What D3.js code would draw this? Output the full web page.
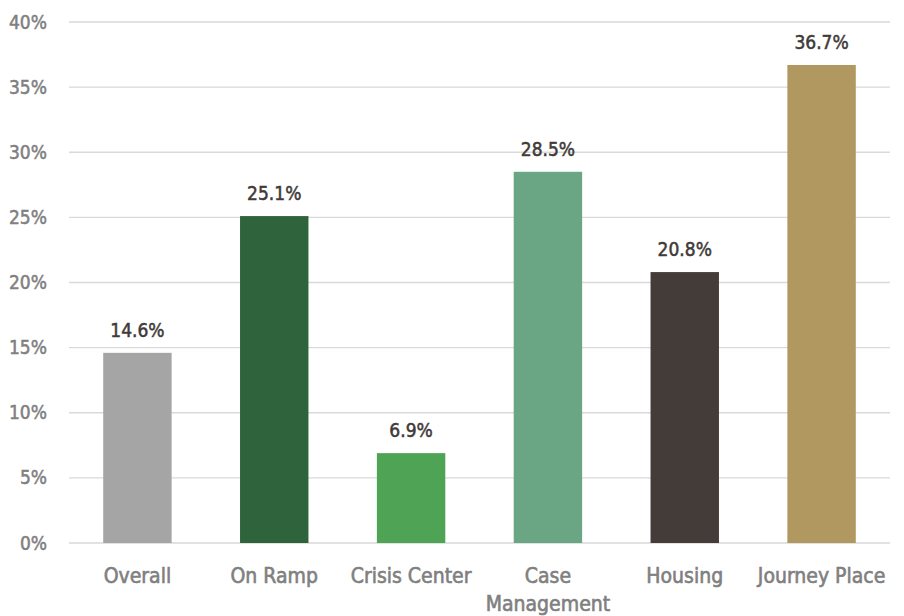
<!DOCTYPE html>
<html>
<head>
<meta charset="utf-8">
<script src="https://cdn.jsdelivr.net/npm/d3@7"></script>
<style>
  body { margin: 0; background: #fff; }
  svg text { font-family: "Liberation Sans Narrow", "DejaVu Sans Condensed", "Roboto", sans-serif; }
</style>
</head>
<body>
<svg id="chart"></svg>
<script>
'use strict';

// chart values
const categories = ['Overall', 'On Ramp', 'Crisis Center', 'Case Management', 'Housing', 'Journey Place'];
const values = [14.6, 25.1, 6.9, 28.5, 20.8, 36.7];
const barColors = ['#a5a5a5', '#2e633c', '#4ea454', '#6aa584', '#433c39', '#b09860'];
const yTicks = [0, 5, 10, 15, 20, 25, 30, 35, 40];

const width = 904;
const height = 616;
const margin = {top: 22, right: 14, bottom: 73, left: 69};

const svg = d3.select('#chart')
  .attr('width', width)
  .attr('height', height);

const x = d3.scaleBand()
  .domain(categories)
  .range([margin.left, width - margin.right])
  .paddingInner(0.5)
  .paddingOuter(0.25);

const y = d3.scaleLinear()
  .domain([0, 40])
  .range([height - margin.bottom, margin.top]);

// gridlines
svg.append('g')
  .selectAll('line')
  .data(yTicks)
  .join('line')
    .attr('x1', margin.left)
    .attr('x2', width - margin.right)
    .attr('y1', d => y(d))
    .attr('y2', d => y(d))
    .attr('stroke', '#d9d9d9')
    .attr('stroke-width', 1.3);

// y axis labels
const yAxis = svg.append('g')
  .attr('transform', `translate(${margin.left}, 0)`)
  .call(d3.axisLeft(y).tickValues(yTicks).tickFormat(d => d + '%').tickSize(0).tickPadding(22));
yAxis.select('.domain').remove();
yAxis.selectAll('text')
  .attr('fill', '#808080')
  .attr('stroke', '#808080')
  .attr('stroke-width', 0.5)
  .attr('font-size', 19)
  .style('font-family', '"Liberation Sans Narrow", "DejaVu Sans Condensed", sans-serif');

// bars
svg.append('g')
  .selectAll('rect')
  .data(values)
  .join('rect')
    .attr('x', (d, i) => x(categories[i]))
    .attr('width', x.bandwidth())
    .attr('y', d => y(d))
    .attr('height', d => y(0) - y(d))
    .attr('fill', (d, i) => barColors[i]);

// data labels
svg.append('g')
  .selectAll('text')
  .data(values)
  .join('text')
    .attr('x', (d, i) => x(categories[i]) + x.bandwidth() / 2)
    .attr('y', d => y(d) - 16)
    .attr('text-anchor', 'middle')
    .attr('fill', '#403a38')
    .attr('stroke', '#403a38')
    .attr('stroke-width', 0.5)
    .attr('font-size', 19)
    .text(d => d.toFixed(1) + '%');

// x axis labels (wrapped)
const xLabels = svg.append('g')
  .selectAll('text')
  .data(categories)
  .join('text')
    .attr('x', d => x(d) + x.bandwidth() / 2)
    .attr('y', y(0) + 40)
    .attr('text-anchor', 'middle')
    .attr('fill', '#808080')
    .attr('stroke', '#808080')
    .attr('stroke-width', 0.6)
    .attr('font-size', 21);

xLabels.each(function(d) {
  const lines = d === 'Case Management' ? ['Case', 'Management'] : [d];
  d3.select(this).selectAll('tspan')
    .data(lines)
    .join('tspan')
      .attr('x', x(d) + x.bandwidth() / 2)
      .attr('dy', (l, i) => i === 0 ? 0 : 28)
      .text(l => l);
});
</script>
</body>
</html>
